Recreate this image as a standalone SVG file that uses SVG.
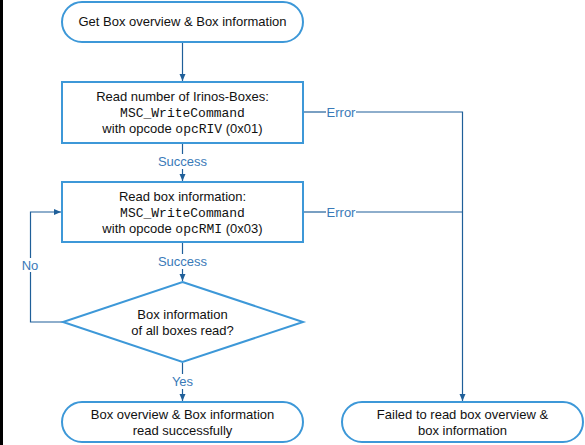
<svg xmlns="http://www.w3.org/2000/svg" width="585" height="445" viewBox="0 0 585 445">
<defs>
<marker id="arr" markerWidth="8" markerHeight="8" refX="7" refY="4" orient="auto" markerUnits="userSpaceOnUse">
<path d="M0,1 L7,4 L0,7 Z" fill="#1f5f99"/>
</marker>
<style>
.n{fill:#ffffff;stroke:#3d98d8;stroke-width:2}
.c{fill:none;stroke:#1f5f99;stroke-width:1.2}
.t{font-family:"Liberation Sans",Arial,sans-serif;font-size:13px;fill:#111111;text-anchor:middle}
.m{font-family:"Liberation Mono","Courier New",monospace;font-size:13px}
.l{font-family:"Liberation Sans",Arial,sans-serif;font-size:13px;fill:#3a7ab8;text-anchor:middle}
</style>
</defs>
<rect x="0" y="0" width="585" height="445" fill="#ffffff"/>
<rect x="0" y="0" width="3" height="445" fill="#000000"/>
<g id="connectors">
<line class="c" x1="182.5" y1="43" x2="182.5" y2="81" marker-end="url(#arr)"/>
<line class="c" x1="182.5" y1="144" x2="182.5" y2="154"/>
<line class="c" x1="182.5" y1="169" x2="182.5" y2="181" marker-end="url(#arr)"/>
<line class="c" x1="182.5" y1="243" x2="182.5" y2="254"/>
<line class="c" x1="182.5" y1="269" x2="182.5" y2="281" marker-end="url(#arr)"/>
<line class="c" x1="182.5" y1="363" x2="182.5" y2="374"/>
<line class="c" x1="182.5" y1="389" x2="182.5" y2="401" marker-end="url(#arr)"/>
<path class="c" d="M63,322 H30.5 V272"/>
<path class="c" d="M30.5,258 V212 H61" marker-end="url(#arr)"/>
<path class="c" d="M304,112 H326"/>
<path class="c" d="M356,112 H462.5 V401" marker-end="url(#arr)"/>
<path class="c" d="M304,212 H326"/>
<path class="c" d="M356,212 H462.5"/>
<text class="l" x="182.5" y="166">Success</text>
<text class="l" x="182.5" y="266">Success</text>
<text class="l" x="182.5" y="386">Yes</text>
<text class="l" x="30" y="270">No</text>
<text class="l" x="341" y="117">Error</text>
<text class="l" x="341" y="217">Error</text>
</g>
<g id="start">
<rect class="n" x="62" y="2" width="241" height="40" rx="20"/>
<text class="t" x="182.5" y="26">Get Box overview &amp; Box information</text>
</g>
<g id="readCount">
<rect class="n" x="62" y="82" width="241" height="61"/>
<text class="t" x="182.5" y="101">Read number of Irinos-Boxes:</text>
<text class="t" x="182.5" y="117"><tspan class="m">MSC_WriteCommand</tspan></text>
<text class="t" x="182.5" y="133">with opcode <tspan class="m">opcRIV</tspan> (0x01)</text>
</g>
<g id="readInfo">
<rect class="n" x="62" y="182" width="241" height="60"/>
<text class="t" x="182.5" y="201">Read box information:</text>
<text class="t" x="182.5" y="217"><tspan class="m">MSC_WriteCommand</tspan></text>
<text class="t" x="182.5" y="233">with opcode <tspan class="m">opcRMI</tspan> (0x03)</text>
</g>
<g id="decision">
<polygon class="n" points="182.5,282 303,322 182.5,362 63,322"/>
<text class="t" x="182.5" y="319">Box information</text>
<text class="t" x="182.5" y="335">of all boxes read?</text>
</g>
<g id="success">
<rect class="n" x="62" y="402" width="241" height="40" rx="20"/>
<text class="t" x="182.5" y="419">Box overview &amp; Box information</text>
<text class="t" x="182.5" y="435">read successfully</text>
</g>
<g id="failure">
<rect class="n" x="342" y="402" width="241" height="40" rx="20"/>
<text class="t" x="462.5" y="419">Failed to read box overview &amp;</text>
<text class="t" x="462.5" y="435">box information</text>
</g>
</svg>
